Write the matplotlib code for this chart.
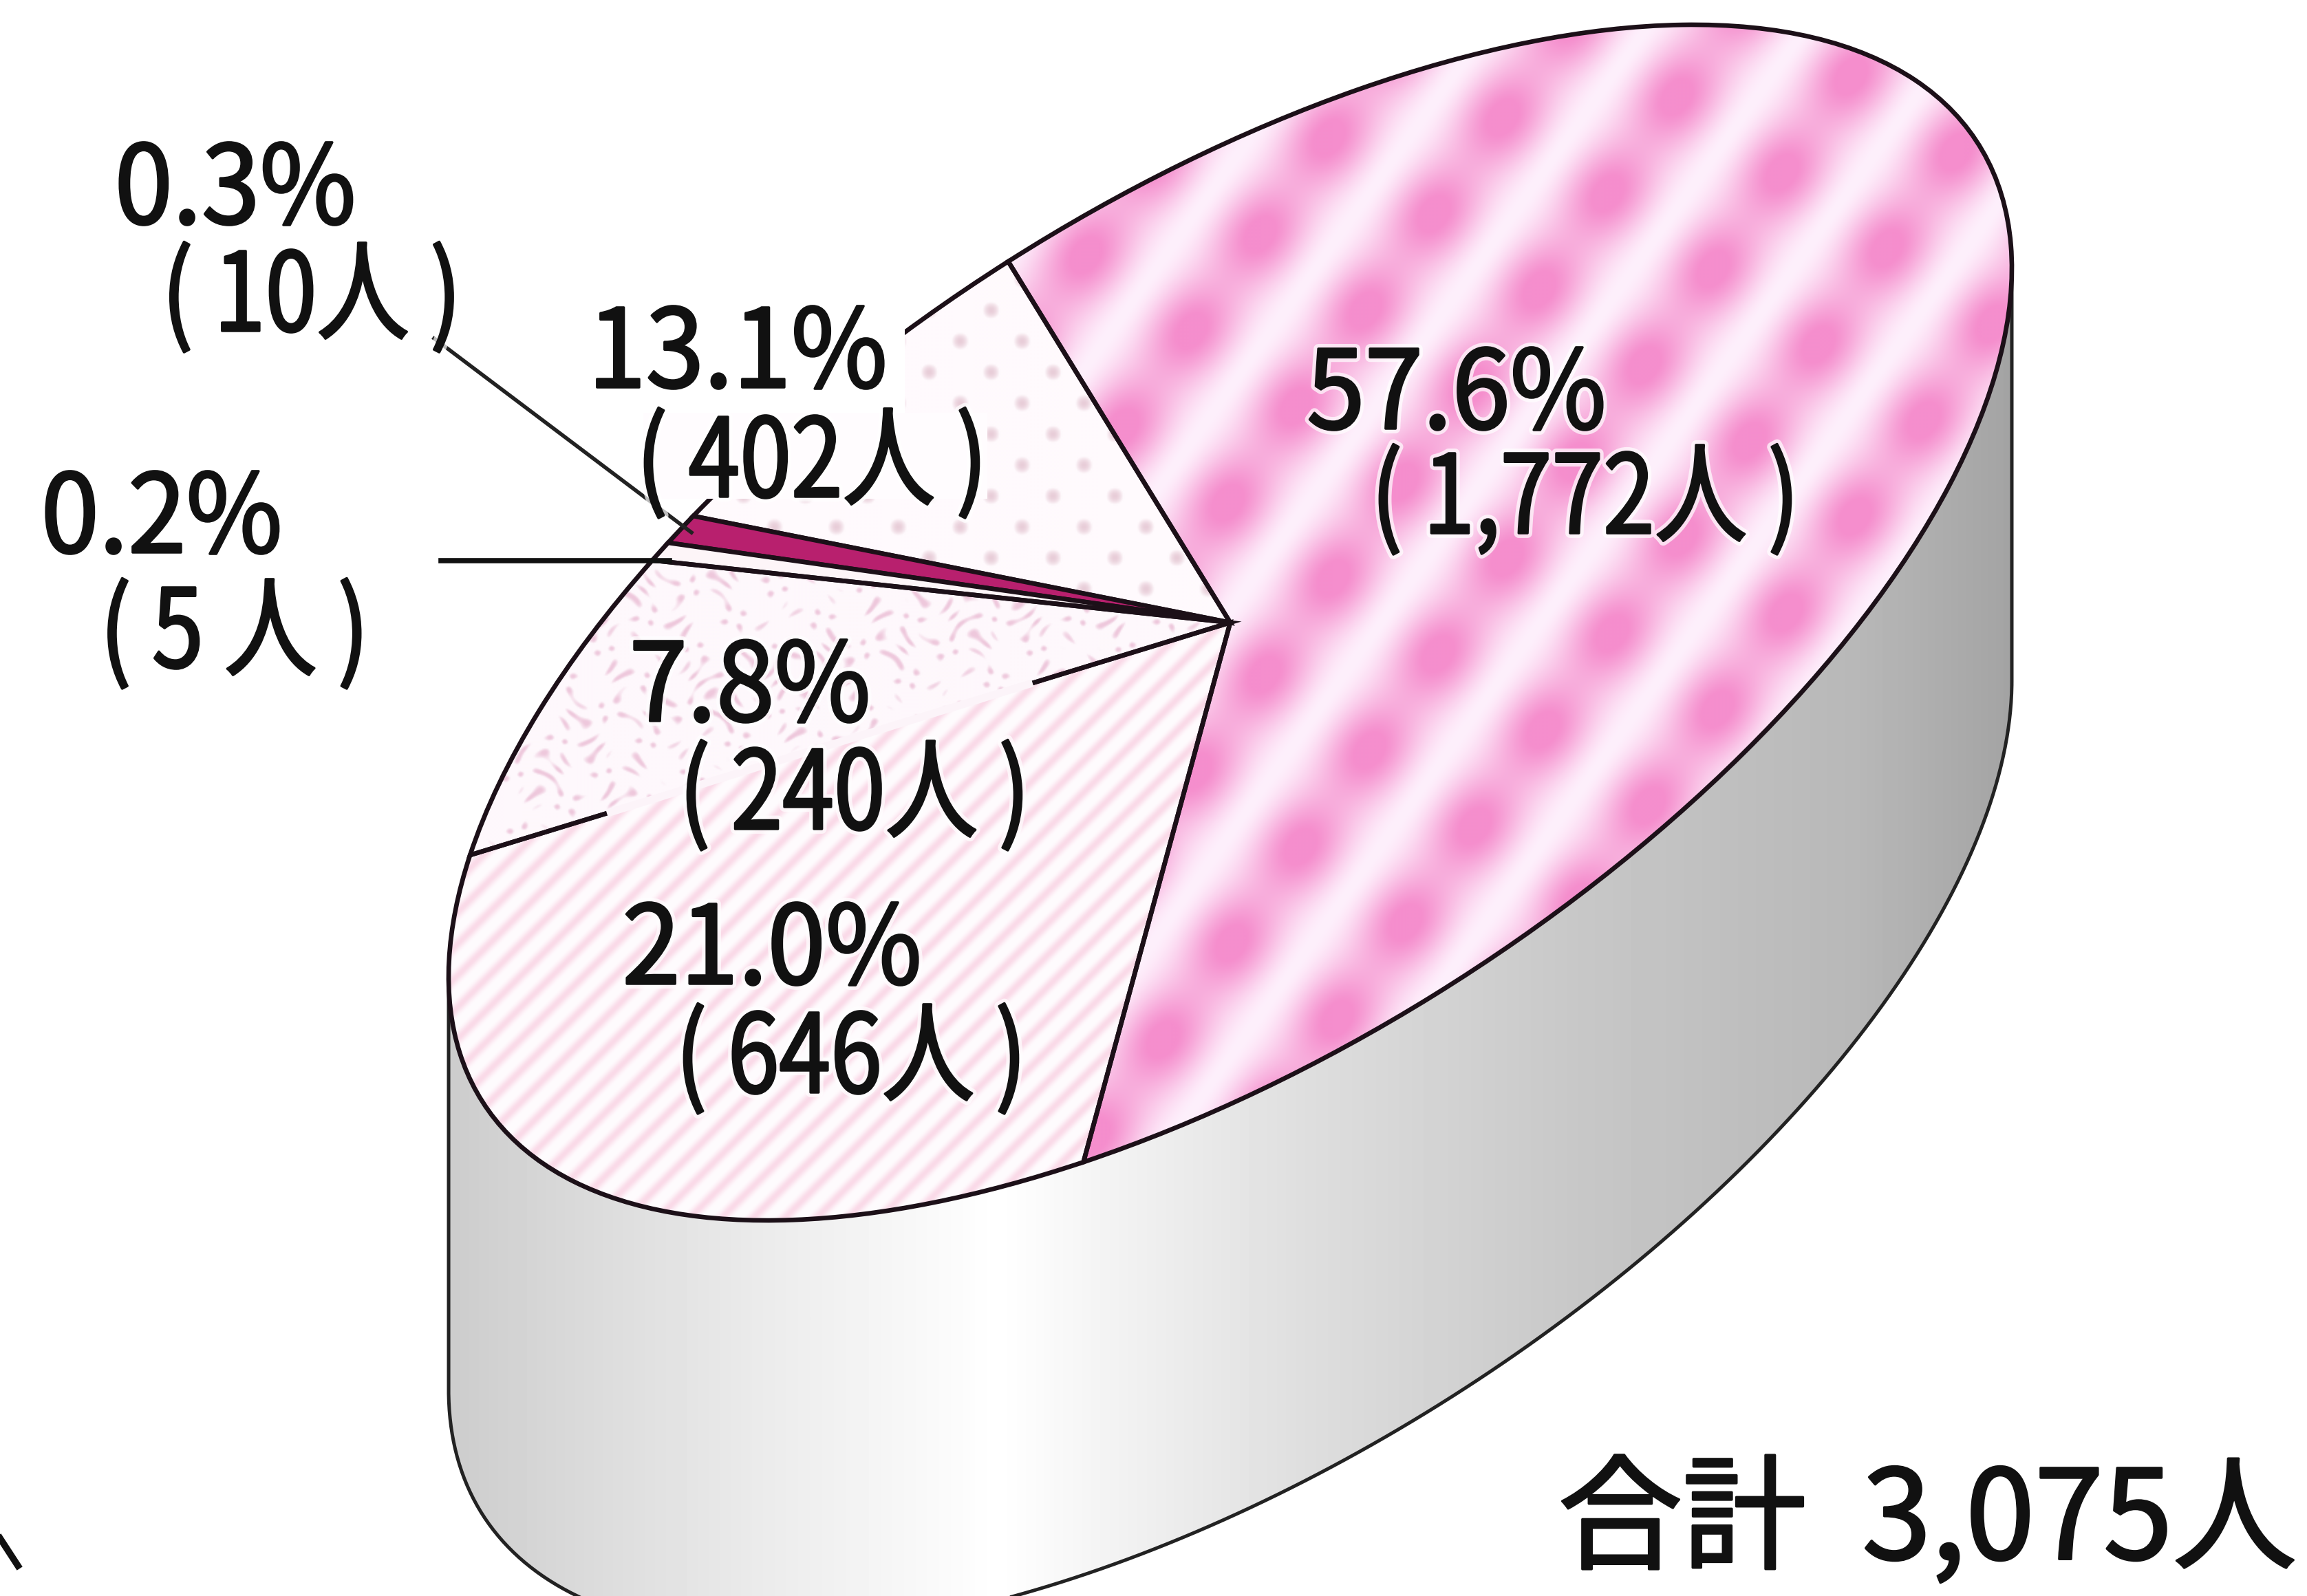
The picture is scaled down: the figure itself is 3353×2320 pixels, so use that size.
import numpy as np
import matplotlib
matplotlib.use("Agg")
import matplotlib.pyplot as plt
import matplotlib.patheffects as pe
from matplotlib.patches import PathPatch, Rectangle
from matplotlib.path import Path
from matplotlib.transforms import Affine2D

plt.rcParams['font.family'] = ['Noto Sans CJK JP', 'DejaVu Sans']

# Slices, going counter clockwise from the top spoke
pct_labels = ["13.1%", "0.3%", "0.2%", "7.8%", "21.0%", "57.6%"]
people = ["( 402人 )", "( 10人 )", "( 5 人 )", "( 240人 )", "( 646人 )", "( 1,772人 )"]
# slice widths as drawn in the picture (they are not quite the printed percentages)
drawn_share = [7.47, 0.72, 0.47, 8.02, 25.73, 57.59]
total_label = "合計  3,075人"

# Shaded side wall, grey level across the picture
wall_x = [650, 900, 1100, 1450, 1900, 2300, 2700, 2925]
wall_grey = [0.80, 0.87, 0.92, 1.0, 0.87, 0.78, 0.72, 0.64]

W, H = 3353, 2320

# Tilted ellipse of the pie top
cx, cy = 1788, 905
m_xx, m_yx, m_yy = 1136, -515, -700
depth = 600


class Narrow(pe.Stroke):
    # squeezes the text sideways around its middle, the original font is condensed
    def __init__(self, k, **kwargs):
        super().__init__(**kwargs)
        self.k = k

    def draw_path(self, renderer, gc, tpath, affine, rgbFace):
        xc = (tpath.vertices[:, 0].min() + tpath.vertices[:, 0].max()) / 2
        squeeze = Affine2D().translate(-xc, 0).scale(self.k, 1).translate(xc, 0)
        super().draw_path(renderer, gc, tpath, squeeze + affine, rgbFace)


fig = plt.figure(figsize=(W / 100, H / 100), dpi=100)
ax = fig.add_axes([0, 0, 1, 1])

wedges, _ = ax.pie(drawn_share, startangle=106.5, counterclock=True, radius=1, center=(0, 0))
ax.set_aspect('auto')
ax.axis('off')

tilt = Affine2D(np.array([[m_xx, 0, cx], [m_yx, m_yy, cy], [0, 0, 1]], dtype=float))

# Fill textures
gx, gy = np.meshgrid(np.arange(0, W, 2), np.arange(0, H, 2))


def texture(base, colour, amount):
    base = np.array(base) / 255
    colour = np.array(colour) / 255
    return base + (colour - base) * np.clip(amount, 0, 1)[..., None]


# pink blotches sit on a slanted grid
across = (140 * (gx - 2590) + 100 * (gy - 250)) / 32420
along = (-110 * (gx - 2590) + 153 * (gy - 250)) / 32420
band = 0.5 + 0.5 * np.cos(2 * np.pi * across)
blot = 0.5 + 0.5 * np.cos(2 * np.pi * along)
pink_amount = band ** 0.9 * (0.62 + 0.38 * blot)

stripe_amount = 0.5 + 0.5 * np.sin(2 * np.pi * (gx + gy) / 46)
dot_amount = (2 * np.cos(2 * np.pi * gx / 90) * np.cos(2 * np.pi * gy / 90) - 1.3) / 0.7
speck = np.sin(gx * 0.09 + np.sin(gy * 0.07) * 3) * np.sin(gy * 0.11 + np.sin(gx * 0.05) * 4)

textures = [
    texture((255, 250, 253), (232, 205, 216), dot_amount),
    None,
    None,
    texture((254, 248, 252), (238, 200, 220), (speck - 0.45) / 0.5),
    texture((255, 252, 254), (250, 218, 232), stripe_amount ** 2),
    texture((254, 240, 252), (245, 142, 205), pink_amount * 1.1),
]
plain_colours = [None, "#b8206e", "#fdf5f8", None, None, None]

# Side wall: lower half of the rim pushed down
t = np.linspace(np.pi, 2 * np.pi, 361)
rim_x = m_xx * np.cos(t) + cx
rim_y = m_yx * np.cos(t) + m_yy * np.sin(t) + cy
outer_x = np.r_[rim_x[0], rim_x, rim_x[-1]]
outer_y = np.r_[rim_y[0], rim_y + depth, rim_y[-1]]

grey = np.interp(np.arange(0, W, 4), wall_x, wall_grey)
wall_im = ax.imshow(np.tile(grey, (2, 1)), cmap='gray', vmin=0, vmax=1, extent=(0, W, H, 0),
                    aspect='auto', interpolation='bilinear', zorder=1)
wall_fill = PathPatch(Path(np.column_stack([np.r_[outer_x, rim_x[::-1]], np.r_[outer_y, rim_y[::-1]]])),
                      facecolor='none', edgecolor='none')
ax.add_patch(wall_fill)
wall_im.set_clip_path(wall_fill)
ax.plot(outer_x, outer_y, color='#222222', lw=3.6, zorder=3)

# Pie top
for w, tex, col in zip(wedges, textures, plain_colours):
    w.set_transform(tilt + ax.transData)
    w.set_edgecolor('#1c1018')
    w.set_linewidth(4.8)
    w.set_zorder(5)
    if tex is None:
        w.set_facecolor(col)
    else:
        w.set_facecolor('none')
        img = ax.imshow(tex, extent=(0, W, H, 0), aspect='auto', interpolation='bilinear', zorder=4)
        img.set_clip_path(w)
ax.set_xlim(0, W)
ax.set_ylim(H, 0)

# The labels cut the rim and one spoke in the original
ax.add_patch(Rectangle((850, 440), 465, 160, facecolor='white', edgecolor='none', zorder=6))
ax.add_patch(Rectangle((935, 600), 500, 125, facecolor='#fffcfe', edgecolor='none', zorder=6))
spoke = np.radians(wedges[4].theta1)
spoke_end = tilt.transform((np.cos(spoke), np.sin(spoke)))
gap = np.array([0.26, 0.82])
ax.plot(cx + (spoke_end[0] - cx) * gap, cy + (spoke_end[1] - cy) * gap, color='#fcf4f9', lw=8,
        solid_capstyle='butt', zorder=6)

# Leader lines
ax.plot([631, 1005], [492, 774], color='#222222', lw=4, zorder=7)
ax.plot([641, 973], [815, 815], color='#111111', lw=5.5, zorder=7)

# Labels
pct_pos = [(1072, 518), (342, 280), (235, 758), (1090, 1003), (1122, 1385), (2117, 578)]
people_pos = [(1181, 677), (454, 436), (342, 925), (1243, 1160), (1238, 1543), (2305, 730)]
for s, (x, y) in zip(pct_labels, pct_pos):
    ax.text(x, y, s, fontsize=114, ha='center', va='center', color='#111111', zorder=8,
            path_effects=[Narrow(0.96, linewidth=10, foreground='white', alpha=0.7),
                          Narrow(0.96, linewidth=2.5, foreground='#111111')])
for s, (x, y) in zip(people, people_pos):
    ax.text(x, y, s, fontsize=114, ha='center', va='center', color='#111111', zorder=8,
            path_effects=[Narrow(0.85, linewidth=10, foreground='white', alpha=0.7),
                          Narrow(0.85, linewidth=2.5, foreground='#111111')])

ax.text(3338, 2215, total_label, fontsize=130, ha='right', va='center', color='#111111', zorder=8,
        path_effects=[pe.withStroke(linewidth=2.5, foreground='#111111')])
# Leg of a cut off character in the bottom left corner
ax.plot([0, 26], [2236, 2276], color='#111111', lw=7, zorder=8)

fig.savefig("out.png", dpi=100)
